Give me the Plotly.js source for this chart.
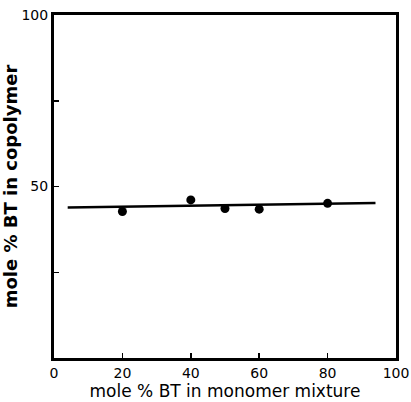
<!DOCTYPE html>
<html>
<head>
<meta charset="utf-8">
<script src="https://cdn.plot.ly/plotly-3.0.1.min.js"></script>
<style>html,body{margin:0;padding:0;background:#fff;}#chart{width:411px;height:402px;}</style>
</head>
<body>
<div id="chart"></div>
<script>
// Data
const feedBT = [20, 40, 50, 60, 80];            // mole % BT in monomer mixture
const copolymerBT = [42.7, 46.1, 43.6, 43.4, 45.1]; // mole % BT in copolymer
const fitX = [4, 94];
const fitY = [43.9, 45.2];
const xTickVals = [0, 20, 40, 60, 80, 100];
const xTickText = ['0', '20', '40', '60', '80', '100'];
const yTickVals = [25, 50, 75, 100];
const yTickText = ['', '50', '', '100'];

const font = 'DejaVu Sans, sans-serif';

const traces = [
  {x: fitX, y: fitY, mode: 'lines', line: {color: '#000', width: 2.5}, hoverinfo: 'skip'},
  {x: feedBT, y: copolymerBT, mode: 'markers', marker: {color: '#000', size: 9}}
];

const layout = {
  width: 411, height: 402,
  margin: {l: 54, r: 15, t: 15, b: 44},
  paper_bgcolor: '#fff', plot_bgcolor: '#fff',
  showlegend: false,
  font: {family: font, color: '#000'},
  xaxis: {
    range: [0, 100], tickvals: xTickVals, ticktext: xTickText,
    ticks: 'inside', ticklen: 5, tickwidth: 1.5, tickcolor: '#000',
    showline: true, linewidth: 3, linecolor: '#000', mirror: true,
    showgrid: false, zeroline: false, ticklabeloverflow: 'allow',
    tickfont: {size: 14, family: font},
    title: {text: 'mole % BT in monomer mixture', font: {size: 17, family: font}, standoff: 3}
  },
  yaxis: {
    range: [0, 100], tickvals: yTickVals, ticktext: yTickText,
    ticks: 'inside', ticklen: 5, tickwidth: 1.5, tickcolor: '#000',
    showline: true, linewidth: 3, linecolor: '#000', mirror: true,
    showgrid: false, zeroline: false, ticklabeloverflow: 'allow',
    tickfont: {size: 14, family: font},
    title: {text: '<b>mole % BT in copolymer</b>', font: {size: 18, family: font}, standoff: 0}
  }
};

Plotly.newPlot('chart', traces, layout, {displayModeBar: false, staticPlot: true});
</script>
</body>
</html>
